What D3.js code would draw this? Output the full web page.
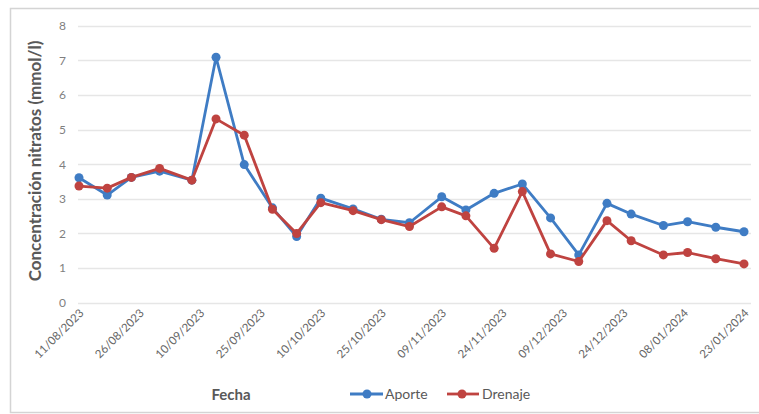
<!DOCTYPE html>
<html>
<head>
<meta charset="utf-8">
<script src="https://cdn.jsdelivr.net/npm/d3@7"></script>
<style>
  html, body { margin: 0; padding: 0; background: #fff; }
  svg { display: block; }
  text { font-family: Lato, "Open Sans", sans-serif; }
</style>
</head>
<body>
<div id="chart"></div>
<script>
// Sampling dates (dd/mm/yyyy)
const fechas = [
  "11/08/2023","18/08/2023","24/08/2023","31/08/2023","08/09/2023","14/09/2023",
  "21/09/2023","28/09/2023","04/10/2023","10/10/2023","18/10/2023","25/10/2023",
  "01/11/2023","09/11/2023","15/11/2023","22/11/2023","29/11/2023","06/12/2023",
  "13/12/2023","20/12/2023","26/12/2023","03/01/2024","09/01/2024","16/01/2024",
  "23/01/2024"
];
// Nitrate concentration in the supply water (mmol/l)
const aporte = [
  3.61, 3.11, 3.62, 3.80, 3.54, 7.09, 3.99, 2.74, 1.91, 3.02, 2.71, 2.41,
  2.31, 3.06, 2.68, 3.16, 3.43, 2.45, 1.38, 2.87, 2.56, 2.23, 2.34, 2.18, 2.05
];
// Nitrate concentration in the drainage (mmol/l)
const drenaje = [
  3.37, 3.31, 3.62, 3.88, 3.54, 5.31, 4.84, 2.70, 2.00, 2.89, 2.66, 2.40,
  2.20, 2.77, 2.51, 1.57, 3.21, 1.41, 1.19, 2.37, 1.79, 1.38, 1.45, 1.27, 1.12
];
// Axis tick labels
const xTicks = [
  "11/08/2023","26/08/2023","10/09/2023","25/09/2023","10/10/2023","25/10/2023",
  "09/11/2023","24/11/2023","09/12/2023","24/12/2023","08/01/2024","23/01/2024"
];
const yTicks = [0, 1, 2, 3, 4, 5, 6, 7, 8];
const seriesNames = ["Aporte", "Drenaje"];
const seriesColors = ["#3f7cc4", "#bf4340"];

const W = 759, H = 414;
const parse = d3.timeParse("%d/%m/%Y");
const fmt = d3.timeFormat("%d/%m/%Y");

const svg = d3.select("#chart").append("svg")
  .attr("width", W).attr("height", H);

// chart frame
svg.append("rect")
  .attr("x", 10.5).attr("y", 8.5)
  .attr("width", 760).attr("height", 404)
  .attr("fill", "#fff").attr("stroke", "#d4d4d4").attr("stroke-width", 1.5);

const x = d3.scaleTime()
  .domain([parse(fechas[0]), parse(fechas[fechas.length - 1])])
  .range([79, 744]);
const y = d3.scaleLinear().domain([0, 8]).range([302.7, 25.8]);

// horizontal gridlines
svg.append("g")
  .selectAll("line")
  .data(yTicks)
  .join("line")
  .attr("x1", 78).attr("x2", 751)
  .attr("y1", d => Math.round(y(d)) + 0.5)
  .attr("y2", d => Math.round(y(d)) + 0.5)
  .attr("stroke", "#e6e6e6").attr("stroke-width", 1.3);

// y axis labels
const yAxis = d3.axisLeft(y).tickValues(yTicks).tickSize(0).tickPadding(0);
const gy = svg.append("g").attr("transform", "translate(66,0)").call(yAxis);
gy.select(".domain").remove();
gy.selectAll("text")
  .attr("font-size", 12).attr("fill", "#7f7f7f")
  .attr("font-family", "Lato, 'Open Sans', sans-serif");

// x axis labels, rotated
const xAxis = d3.axisBottom(x)
  .tickValues(xTicks.map(parse))
  .tickFormat(fmt).tickSize(0).tickPadding(0);
const gx = svg.append("g").attr("transform", "translate(0,311)").call(xAxis);
gx.select(".domain").remove();
gx.selectAll("text")
  .attr("font-size", 11.5).attr("fill", "#666666")
  .attr("font-family", "Lato, 'Open Sans', sans-serif")
  .attr("text-anchor", "end")
  .attr("dy", "0.35em")
  .attr("transform", "translate(2,0) rotate(-45)");

// series lines and markers
const line = d3.line()
  .x((d, i) => x(parse(fechas[i])))
  .y(d => y(d));

[aporte, drenaje].forEach((vals, s) => {
  svg.append("path")
    .datum(vals)
    .attr("fill", "none")
    .attr("stroke", seriesColors[s])
    .attr("stroke-width", 2.8)
    .attr("stroke-linejoin", "round")
    .attr("d", line);
  svg.append("g")
    .selectAll("circle")
    .data(vals)
    .join("circle")
    .attr("cx", (d, i) => x(parse(fechas[i])))
    .attr("cy", d => y(d))
    .attr("r", 4.5)
    .attr("fill", seriesColors[s]);
});

// axis titles
svg.append("text")
  .attr("transform", "translate(41,161) rotate(-90)")
  .attr("text-anchor", "middle")
  .attr("font-size", 17).attr("font-weight", 700)
  .attr("fill", "#595959")
  .text("Concentración  nitratos (mmol/l)");

svg.append("text")
  .attr("x", 231).attr("y", 400)
  .attr("text-anchor", "middle")
  .attr("font-size", 15).attr("font-weight", 700)
  .attr("fill", "#595959")
  .text("Fecha");

// legend
const legend = [[350, 383, 367, 385], [447, 479, 462, 482]];
legend.forEach(([x1, x2, cx, tx], s) => {
  const g = svg.append("g");
  g.append("line")
    .attr("x1", x1).attr("x2", x2).attr("y1", 394).attr("y2", 394)
    .attr("stroke", seriesColors[s]).attr("stroke-width", 2.8);
  g.append("circle")
    .attr("cx", cx).attr("cy", 394).attr("r", 4.5)
    .attr("fill", seriesColors[s]);
  g.append("text")
    .attr("x", tx).attr("y", 399)
    .attr("font-size", 14).attr("fill", "#595959")
    .text(seriesNames[s]);
});
</script>
</body>
</html>
